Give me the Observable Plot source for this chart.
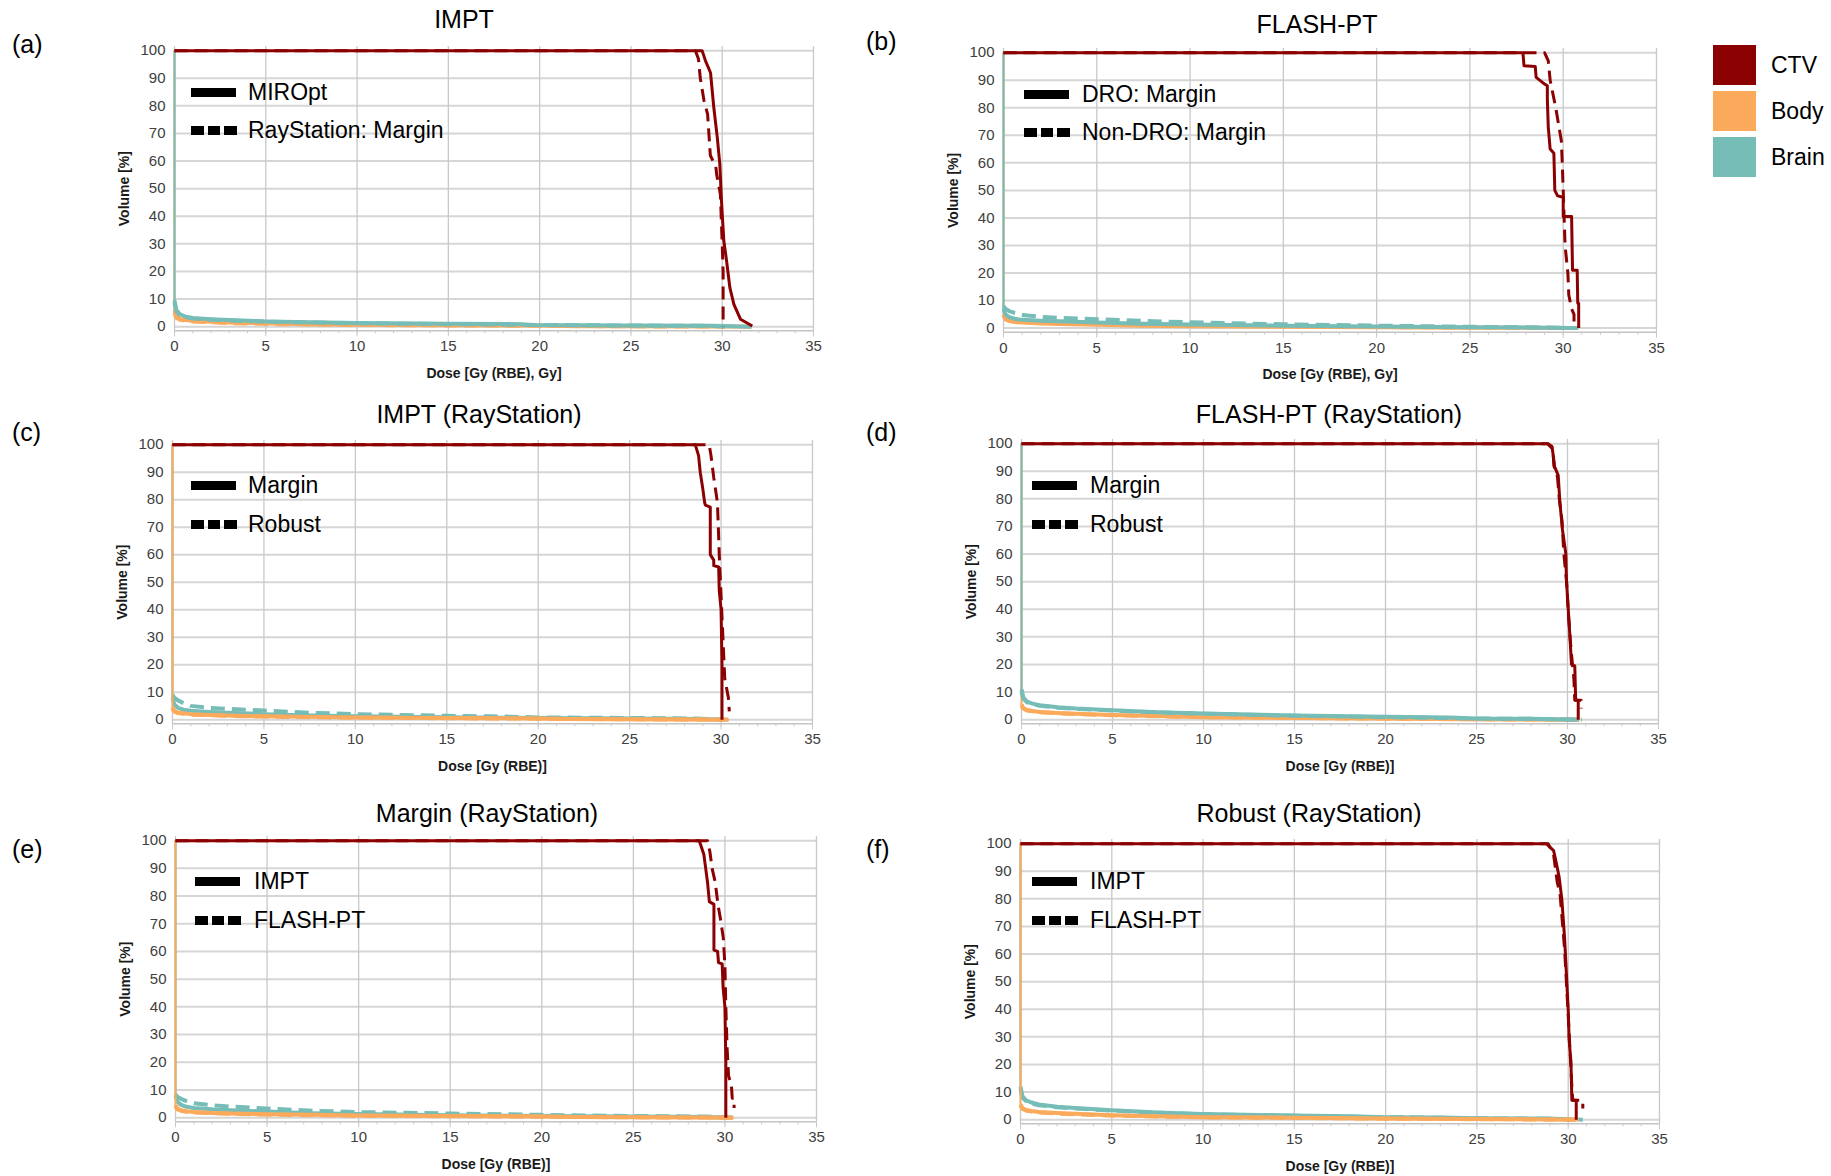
<!DOCTYPE html>
<html><head><meta charset="utf-8">
<script src="https://cdn.jsdelivr.net/npm/d3@7"></script>
<script src="https://cdn.jsdelivr.net/npm/@observablehq/plot@0.6"></script>
<style>
body{margin:0;background:#fff;font-family:"Liberation Sans",Arial,sans-serif;}
#root{position:relative;width:1831px;height:1176px;overflow:hidden;background:#fff;}
.abs{position:absolute;white-space:nowrap;line-height:1;}
.title{font-size:25px;color:#000;transform:translate(-50%,-50%);}
.letter{font-size:25px;color:#000;transform:translateY(-50%);}
.lgtext{font-size:23px;color:#000;transform:translateY(-50%);}
.blk{position:absolute;background:#000;}
.panel{position:absolute;}
g[aria-label="x-axis label"], g[aria-label="x-axis label"] text,
g[aria-label="y-axis label"], g[aria-label="y-axis label"] text{font-weight:bold;font-size:14px;fill:#1a1a1a;}
</style></head>
<body><div id="root"></div>
<script>
// ---------- categories, labels, ticks ----------
const structures = ["CTV", "Body", "Brain"];
const structureColors = ["#8b0000", "#fbaa5c", "#76bdb7"];
const panelLetters = ["(a)", "(b)", "(c)", "(d)", "(e)", "(f)"];
const panelTitles = ["IMPT", "FLASH-PT", "IMPT (RayStation)", "FLASH-PT (RayStation)", "Margin (RayStation)", "Robust (RayStation)"];
const doseLabels = ["Dose [Gy (RBE), Gy]", "Dose [Gy (RBE), Gy]", "Dose [Gy (RBE)]", "Dose [Gy (RBE)]", "Dose [Gy (RBE)]", "Dose [Gy (RBE)]"];
const volumeLabel = "Volume [%]";
const solidNames = ["MIROpt", "DRO: Margin", "Margin", "Margin", "IMPT", "IMPT"];
const dashedNames = ["RayStation: Margin", "Non-DRO: Margin", "Robust", "Robust", "FLASH-PT", "FLASH-PT"];
const doseTicks = [0, 5, 10, 15, 20, 25, 30, 35];
const minorDoseTicks = [0,1,2,3,4,5,6,7,8,9,10,11,12,13,14,15,16,17,18,19,20,21,22,23,24,25,26,27,28,29,30,31,32,33,34,35];
const volumeTicks = [0, 10, 20, 30, 40, 50, 60, 70, 80, 90, 100];
const doseDomain = [0, 35];
const volumeDomain = [-1.5, 101.5];

// ---------- (a) IMPT ----------
const aCtvSolid = [[0,100],[28.9,100],[29.08,96.4],[29.36,92],[29.54,79.4],[29.73,68.6],[29.87,58.9],[29.96,45.6],[30.09,31],[30.24,23.8],[30.42,14.1],[30.64,8.1],[31.0,2.7],[31.65,0.2]];
const aCtvDashed = [[0,100],[28.53,100],[28.7,97],[28.8,90],[29.0,82],[29.2,77],[29.35,62],[29.65,58],[29.7,55],[29.9,48],[30.0,30],[30.05,20],[30.05,0]];
const aBodySolid = [[0,100],[0,6],[0.1,3.6],[0.3,2.8],[0.6,2.4],[1,2.1],[2,1.8],[3,1.5],[5,1.2],[7.5,0.9],[10,0.7],[15,0.5],[20,0.4],[22,0.15],[25,0.1],[30,0.05],[31.6,0]];
const aBodyDashed = [[0,100],[0,5],[0.1,3.2],[0.3,2.5],[0.6,2.1],[1,1.9],[2,1.6],[3,1.3],[5,1.0],[7.5,0.8],[10,0.6],[15,0.45],[20,0.3],[25,0.1],[30.1,0]];
const aBrainSolid = [[0,100],[0,9.5],[0.1,6],[0.3,4.5],[0.6,3.6],[1,3.1],[2,2.7],[3,2.4],[5,1.9],[7.5,1.6],[10,1.3],[15,1.0],[19,0.9],[19.5,0.6],[25,0.4],[29.5,0.3],[31.6,0]];
const aBrainDashed = [[0,100],[0,8.5],[0.1,5.5],[0.3,4.2],[0.6,3.4],[1,2.9],[2,2.5],[3,2.2],[5,1.8],[7.5,1.5],[10,1.2],[15,0.9],[20,0.6],[25,0.4],[29,0.3],[30.2,0]];

// ---------- (b) FLASH-PT ----------
const bCtvSolid = [[0,100],[27.84,100],[27.9,95.2],[28.5,95],[28.55,91],[28.92,89],[29.15,88],[29.15,83],[29.2,73],[29.3,65],[29.5,63.5],[29.55,50],[29.7,48],[30,47.5],[30,40.5],[30.45,40.5],[30.5,21],[30.75,21],[30.78,9],[30.83,9],[30.83,0]];
const bCtvDashed = [[0,100],[29.0,100],[29.2,97],[29.3,90],[29.45,85],[29.6,80],[29.75,74],[29.9,68],[29.95,60],[30.0,50],[30.05,40],[30.1,30],[30.25,20],[30.3,12],[30.45,7],[30.58,5],[30.58,0]];
const bBodySolid = [[0,100],[0,4.5],[0.1,3.2],[0.3,2.6],[0.6,2.2],[1,2.0],[2,1.7],[3,1.5],[5,1.2],[7.5,0.9],[10,0.7],[15,0.5],[20,0.3],[25,0.15],[30,0.05],[30.8,0]];
const bBodyDashed = [[0,100],[0,5],[0.1,3.8],[0.3,3.0],[0.6,2.6],[1,2.3],[2,2.0],[3,1.8],[5,1.5],[7.5,1.2],[10,1.0],[15,0.7],[20,0.4],[25,0.2],[30,0.05],[30.8,0]];
const bBrainSolid = [[0,100],[0,7],[0.1,5],[0.3,4.0],[0.6,3.4],[1,3.0],[2,2.7],[3,2.5],[5,2.0],[7.5,1.6],[10,1.3],[15,0.9],[20,0.6],[25,0.3],[28,0.2],[30.5,0]];
const bBrainDashed = [[0,100],[0,8],[0.1,7],[0.3,6.2],[0.6,5.5],[1,4.8],[2,4.1],[3,3.7],[5,3.2],[7.5,2.6],[10,2.1],[15,1.4],[20,0.9],[25,0.5],[28,0.3],[30.8,0]];

// ---------- (c) IMPT (RayStation) ----------
const cCtvSolid = [[0,100],[28.59,100],[28.77,96],[28.86,90],[29.0,84],[29.1,79],[29.14,78],[29.41,77.3],[29.41,60],[29.6,58],[29.6,56],[29.87,55.5],[29.9,47],[30.0,40],[30.05,20],[30.05,0]];
const cCtvDashed = [[0,100],[29.35,100],[29.45,96],[29.6,88],[29.8,79],[29.85,70],[29.9,60],[30.0,45],[30.1,30],[30.2,15],[30.4,8],[30.45,3]];
const cBodySolid = [[0,100],[0,4.5],[0.1,3.2],[0.3,2.6],[0.6,2.3],[1,2.0],[2,1.7],[3,1.5],[5,1.2],[7.5,1.0],[10,0.8],[15,0.6],[20,0.4],[21.3,0.2],[25,0.1],[30.2,0]];
const cBodyDashed = [[0,100],[0,4],[0.1,2.9],[0.3,2.4],[0.6,2.1],[1,1.8],[2,1.6],[3,1.4],[5,1.1],[7.5,0.9],[10,0.7],[15,0.5],[20,0.35],[25,0.1],[30.4,0]];
const cBrainSolid = [[0,100],[0,8],[0.1,5.5],[0.3,4.3],[0.6,3.6],[1,3.2],[2,2.8],[3,2.5],[5,2.0],[7.5,1.5],[10,1.2],[15,0.9],[20,0.6],[25,0.4],[29,0.2],[30.2,0]];
const cBrainDashed = [[0,100],[0,9],[0.1,8],[0.3,7],[0.6,6],[1,5],[2,4.3],[3,3.9],[5,3.3],[7.5,2.5],[10,2.0],[15,1.4],[17.5,1.2],[20,0.8],[25,0.6],[28.5,0.4],[30.4,0]];

// ---------- (d) FLASH-PT (RayStation) ----------
const dCtvSolid = [[0,100],[28.93,100],[29.15,99],[29.21,96],[29.3,91.5],[29.49,88.5],[29.58,79],[29.72,69],[29.91,60],[29.94,51],[30.09,35],[30.22,20],[30.4,19.5],[30.45,7],[30.59,7],[30.59,0]];
const dCtvDashed = [[0,100],[28.9,100],[29.2,98],[29.25,92],[29.45,88],[29.55,80],[29.7,72],[29.8,60],[29.95,50],[30.05,38],[30.2,25],[30.35,15],[30.4,7],[30.75,7],[30.75,4]];
const dBodySolid = [[0,100],[0,5.5],[0.1,4.2],[0.3,3.5],[0.6,3.1],[1,2.8],[2,2.4],[3,2.1],[5,1.7],[7.5,1.3],[10,0.9],[15,0.6],[20,0.4],[25,0.1],[30.6,0]];
const dBodyDashed = [[0,100],[0,5],[0.1,4.0],[0.3,3.3],[0.6,3.0],[1,2.7],[2,2.3],[3,2.0],[5,1.6],[7.5,1.2],[10,0.9],[15,0.6],[20,0.35],[25,0.1],[30.8,0]];
const dBrainSolid = [[0,100],[0,11],[0.1,8],[0.3,6.5],[0.6,5.8],[1,5.2],[2,4.5],[3,4.0],[5,3.4],[7.5,2.7],[10,2.2],[15,1.5],[20,1.0],[23.5,0.8],[25,0.4],[28,0.3],[30.6,0]];
const dBrainDashed = [[0,100],[0,10],[0.1,7.6],[0.3,6.3],[0.6,5.6],[1,5.0],[2,4.3],[3,3.9],[5,3.3],[7.5,2.6],[10,2.1],[15,1.4],[20,0.9],[25,0.4],[28,0.3],[30.8,0]];

// ---------- (e) Margin (RayStation) ----------
const eCtvSolid = [[0,100],[28.6,100],[28.85,95],[28.95,90],[29.05,85],[29.15,78],[29.4,77],[29.4,60.5],[29.6,60],[29.65,56],[29.85,55.5],[29.9,47],[30.0,40],[30.05,20],[30.05,0]];
const eCtvDashed = [[0,100],[29.05,100],[29.18,96],[29.3,90],[29.47,85],[29.62,77],[29.75,72],[29.91,65],[30.0,55],[30.05,40],[30.12,25],[30.2,15],[30.35,12],[30.4,7],[30.5,7],[30.5,3.5]];
const eBodySolid = [[0,100],[0,4.5],[0.1,3.3],[0.3,2.7],[0.6,2.3],[1,2.0],[2,1.7],[3,1.5],[5,1.2],[7.5,1.0],[10,0.8],[15,0.6],[20,0.4],[21.3,0.2],[25,0.1],[30.3,0]];
const eBodyDashed = [[0,100],[0,4],[0.1,3.0],[0.3,2.5],[0.6,2.1],[1,1.9],[2,1.6],[3,1.4],[5,1.1],[7.5,0.9],[10,0.7],[15,0.5],[20,0.35],[25,0.1],[30.5,0]];
const eBrainSolid = [[0,100],[0,8],[0.1,5.8],[0.3,4.6],[0.6,3.9],[1,3.5],[2,3.0],[3,2.7],[5,2.2],[7.5,1.6],[10,1.3],[15,0.9],[20,0.6],[25,0.4],[29,0.2],[30.3,0]];
const eBrainDashed = [[0,100],[0,8.5],[0.1,7.5],[0.3,6.8],[0.6,6.0],[1,5.2],[2,4.5],[3,4.0],[5,3.3],[7.5,2.5],[10,2.0],[15,1.5],[20,1.0],[25,0.6],[29,0.4],[30.5,0]];

// ---------- (f) Robust (RayStation) ----------
const fCtvSolid = [[0,100],[28.8,100],[29.2,97.5],[29.35,93],[29.5,88],[29.65,80],[29.8,66],[29.9,53],[30.0,40],[30.05,29],[30.15,21],[30.2,7],[30.44,7],[30.44,0]];
const fCtvDashed = [[0,100],[28.9,100],[29.2,96],[29.3,91],[29.4,86],[29.55,82],[29.7,70],[29.8,62],[29.9,50],[30.0,38],[30.1,25],[30.2,12],[30.25,7],[30.8,7],[30.8,4]];
const fBodySolid = [[0,100],[0,5.5],[0.1,4.2],[0.3,3.5],[0.6,3.1],[1,2.8],[2,2.4],[3,2.1],[5,1.6],[7.5,1.2],[10,0.9],[15,0.7],[20,0.4],[25,0.2],[30.4,0]];
const fBodyDashed = [[0,100],[0,5],[0.1,3.9],[0.3,3.3],[0.6,2.9],[1,2.6],[2,2.2],[3,1.9],[5,1.5],[7.5,1.1],[10,0.8],[15,0.6],[20,0.35],[25,0.15],[30.8,0]];
const fBrainSolid = [[0,100],[0,12],[0.1,8.5],[0.3,7],[0.6,6.2],[1,5.5],[2,4.7],[3,4.2],[5,3.4],[7.5,2.6],[10,2.0],[15,1.5],[18,1.2],[20,0.9],[23,0.8],[25,0.5],[29,0.4],[30.4,0]];
const fBrainDashed = [[0,100],[0,11],[0.1,8],[0.3,6.7],[0.6,5.9],[1,5.2],[2,4.5],[3,4.0],[5,3.3],[7.5,2.5],[10,1.9],[15,1.4],[20,0.9],[25,0.5],[29,0.3],[30.8,0]];

const curves = [
  {CTV:{solid:aCtvSolid,dashed:aCtvDashed}, Body:{solid:aBodySolid,dashed:aBodyDashed}, Brain:{solid:aBrainSolid,dashed:aBrainDashed}},
  {CTV:{solid:bCtvSolid,dashed:bCtvDashed}, Body:{solid:bBodySolid,dashed:bBodyDashed}, Brain:{solid:bBrainSolid,dashed:bBrainDashed}},
  {CTV:{solid:cCtvSolid,dashed:cCtvDashed}, Body:{solid:cBodySolid,dashed:cBodyDashed}, Brain:{solid:cBrainSolid,dashed:cBrainDashed}},
  {CTV:{solid:dCtvSolid,dashed:dCtvDashed}, Body:{solid:dBodySolid,dashed:dBodyDashed}, Brain:{solid:dBrainSolid,dashed:dBrainDashed}},
  {CTV:{solid:eCtvSolid,dashed:eCtvDashed}, Body:{solid:eBodySolid,dashed:eBodyDashed}, Brain:{solid:eBrainSolid,dashed:eBrainDashed}},
  {CTV:{solid:fCtvSolid,dashed:fCtvDashed}, Body:{solid:fBodySolid,dashed:fBodyDashed}, Brain:{solid:fBrainSolid,dashed:fBrainDashed}}
];

// ---------- layout (pixel positions of each panel) ----------
const layout = [
  {x0:174,  x35:813,  y100:50,    y0:326,   title:[464,19],   letter:[12,44],  leg:{bar:191,  text:248,  y1:92,  y2:130}, order:["Body","Brain","CTV"]},
  {x0:1003, x35:1656, y100:52.5,  y0:328,   title:[1317,24],  letter:[866,41], leg:{bar:1024, text:1082, y1:94,  y2:132}, order:["Body","Brain","CTV"]},
  {x0:172,  x35:812,  y100:444,   y0:719,   title:[479,414],  letter:[12,432], leg:{bar:191,  text:248,  y1:485, y2:524}, order:["Brain","Body","CTV"]},
  {x0:1021, x35:1658, y100:443.5, y0:719.5, title:[1329,414], letter:[866,432],leg:{bar:1032, text:1090, y1:485, y2:524}, order:["Body","Brain","CTV"]},
  {x0:175,  x35:816,  y100:840,   y0:1117,  title:[487,813],  letter:[12,849], leg:{bar:195,  text:254,  y1:881, y2:920}, order:["Brain","Body","CTV"]},
  {x0:1020, x35:1659, y100:843,   y0:1119,  title:[1309,813], letter:[866,849],leg:{bar:1032, text:1090, y1:881, y2:920}, order:["Brain","Body","CTV"]}
];

const root = document.getElementById("root");
function addDiv(cls, text, left, top, extra) {
  const d = document.createElement("div");
  d.className = cls;
  if (text != null) d.textContent = text;
  d.style.left = left + "px"; d.style.top = top + "px";
  if (extra) Object.assign(d.style, extra);
  root.appendChild(d);
  return d;
}

layout.forEach((L, i) => {
  const k = (L.y0 - L.y100) / 100;
  const fTop = L.y100 - (volumeDomain[1] - 100) * k;
  const fBot = L.y0 - volumeDomain[0] * k;
  const mL = 58, mR = 16, mT = 6, mB = 50;
  const width = (L.x35 - L.x0) + mL + mR;
  const height = (fBot - fTop) + mT + mB;

  const rows = [];
  for (const s of structures) for (const st of ["solid", "dashed"])
    curves[i][s][st].forEach(([dose, vol], idx) => rows.push({structure: s, style: st, idx, dose, vol}));

  const lineMarks = [];
  for (const s of L.order) {
    const color = structureColors[structures.indexOf(s)];
    for (const st of ["dashed", "solid"]) {
      const sub = rows.filter(r => r.structure === s && r.style === st);
      const dash = st === "dashed" ? (s === "CTV" ? "13,7" : "14,7") : null;
      if (s === "CTV") {
        lineMarks.push(Plot.line(sub, {x: "dose", y: "vol", stroke: color, strokeWidth: 3, strokeDasharray: dash, strokeLinecap: "butt"}));
      } else {
        // thin initial drop at zero dose, thick low-dose tail
        lineMarks.push(Plot.line(sub.filter(r => r.idx <= 1), {x: "dose", y: "vol", stroke: color, strokeWidth: 1.6}));
        lineMarks.push(Plot.line(sub.filter(r => r.idx >= 1), {x: "dose", y: "vol", stroke: color, strokeWidth: 4, strokeDasharray: dash, strokeLinecap: "butt"}));
      }
    }
  }

  const chart = Plot.plot({
    width, height, marginLeft: mL, marginRight: mR, marginTop: mT, marginBottom: mB,
    x: {domain: doseDomain},
    y: {domain: volumeDomain},
    style: {fontFamily: "'Liberation Sans', Arial, sans-serif", fontSize: "15px", background: "transparent", overflow: "visible"},
    marks: [
      Plot.gridY(volumeTicks, {stroke: "#d6d6d6", strokeOpacity: 1, strokeWidth: 2}),
      Plot.gridX(doseTicks, {stroke: "#c9c9c9", strokeOpacity: 1, strokeWidth: 1.3}),
      Plot.ruleY([volumeDomain[0]], {stroke: "#c4c4c4", strokeWidth: 1.5}),
      Plot.axisX({ticks: minorDoseTicks, tickSize: 3, stroke: "#c9c9c9", tickFormat: () => "", label: null}),
      Plot.axisX({ticks: doseTicks, tickSize: 6, tickPadding: 4, stroke: "#c9c9c9", fill: "#404040", fontSize: 15,
                  label: doseLabels[i], labelAnchor: "center", labelArrow: "none"}),
      Plot.axisY({ticks: volumeTicks, tickSize: 0, tickPadding: 9, fill: "#404040", fontSize: 15,
                  label: volumeLabel, labelAnchor: "center", labelArrow: "none"}),
      ...lineMarks
    ]
  });
  const wrap = addDiv("panel", null, L.x0 - mL, fTop - mT);
  wrap.appendChild(chart);

  addDiv("abs title", panelTitles[i], L.title[0], L.title[1]);
  addDiv("abs letter", panelLetters[i], L.letter[0], L.letter[1]);

  // line-style legend
  addDiv("blk", null, L.leg.bar, L.leg.y1 - 4.5, {width: "45px", height: "9px"});
  addDiv("abs lgtext", solidNames[i], L.leg.text, L.leg.y1);
  for (let j = 0; j < 3; j++) addDiv("blk", null, L.leg.bar + j * 16.5, L.leg.y2 - 4.5, {width: "12.5px", height: "9px"});
  addDiv("abs lgtext", dashedNames[i], L.leg.text, L.leg.y2);
});

// colour legend
const swatchTops = [45, 91, 137];
structures.forEach((s, j) => {
  addDiv("blk", null, 1713, swatchTops[j], {width: "43px", height: "40px", background: structureColors[j]});
  addDiv("abs lgtext", s, 1771, swatchTops[j] + 20);
});
</script></body></html>
